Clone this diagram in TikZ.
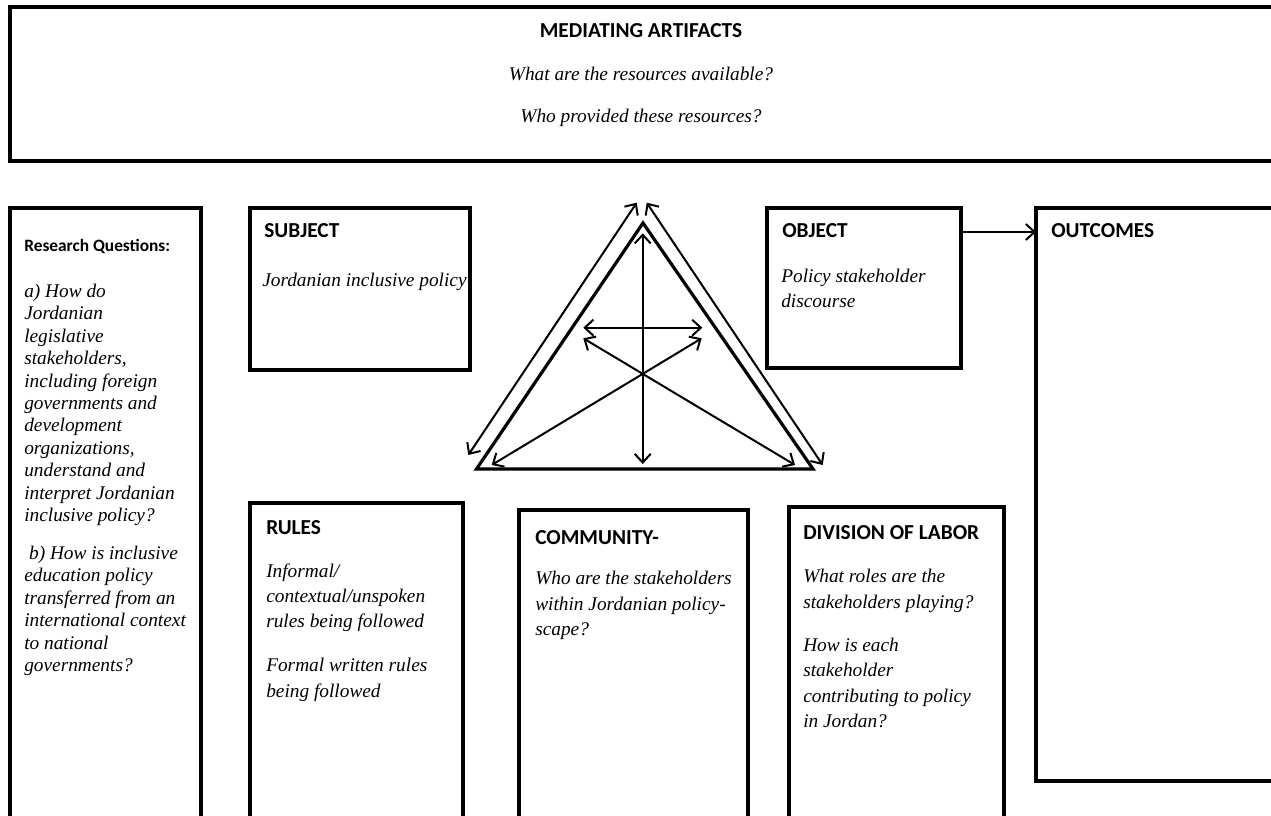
\documentclass[tikz,border=0pt]{standalone}
\usepackage{fontspec}
\setmainfont{Liberation Serif}
\newfontfamily\hdfont{Carlito}
\usetikzlibrary{arrows.meta}
\begin{document}
\begin{tikzpicture}[x=0.75pt,y=-0.75pt,
  box/.style={draw,line width=2.5pt,rectangle,inner sep=0pt,outer sep=0pt,anchor=north west},
  hd/.style={anchor=base west,inner sep=0pt,font=\hdfont\bfseries\fontsize{16}{19}\selectfont},
  it/.style={anchor=base west,inner sep=0pt,align=left,font=\itshape\fontsize{14.5}{19.1}\selectfont},
  barb/.tip={Straight Barb[length=6.5pt,width=12pt,line width=1.5pt]},
  link/.style={line width=1.5pt,barb-barb},
  onelink/.style={line width=1.5pt,-barb},
]
\useasboundingbox (0,0) rectangle (1271,816);
\clip (0,0) rectangle (1271,816);

% boxes
\node[box,minimum width=960pt,minimum height=115.5pt] (med) at (10,7) {};
\node[box,minimum width=143.25pt,minimum height=466.5pt] (rq) at (10,208) {};
\node[box,minimum width=165pt,minimum height=121.5pt] (subj) at (250,208) {};
\node[box,minimum width=145.5pt,minimum height=120pt] (obj) at (767,208) {};
\node[box,minimum width=190.5pt,minimum height=429.75pt] (out) at (1036,208) {};
\node[box,minimum width=159.75pt,minimum height=245.25pt] (rules) at (250,503) {};
\node[box,minimum width=171.75pt,minimum height=240pt] (comm) at (519,510) {};
\node[box,minimum width=161.25pt,minimum height=242.25pt] (div) at (789,507) {};

% mediating artifacts
\node[hd,anchor=base] (medh) at (641,38) {MEDIATING ARTIFACTS};
\node[it,anchor=base] (medq1) at (641,81) {What are the resources available?};
\node[it,anchor=base] (medq2) at (641,123) {Who provided these resources?};

% research questions (multi-line nodes: base = last line)
\node[hd,font=\hdfont\bfseries\fontsize{13}{16}\selectfont] (rqh) at (24,252) {Research Questions:};
\node[it,font=\itshape\fontsize{14.5}{16.8}\selectfont] (rqt) at (24,671.5)
 {a) How do\\Jordanian\\legislative\\stakeholders,\\including foreign\\governments and\\development\\organizations,\\understand and\\interpret Jordanian\\inclusive policy?\\[11.7pt]\hspace*{0.25em}b) How is inclusive\\education policy\\transferred from an\\international context\\to national\\governments?};

% subject
\node[hd] (subjh) at (264,238) {SUBJECT};
\node[it] (subjt) at (262,287) {Jordanian inclusive policy};

% object
\node[hd] (objh) at (782,238) {OBJECT};
\node[it] (objt) at (781,307.5) {Policy stakeholder\\discourse};

% outcomes
\node[hd] (outh) at (1051,238) {OUTCOMES};

% rules
\node[hd] (rulesh) at (266,534) {RULES};
\node[it] (rulest) at (266,697.4) {Informal/\\contextual/unspoken\\rules being followed\\[13.9pt]Formal written rules\\being followed};

% community
\node[hd] (commh) at (535,544) {COMMUNITY-};
\node[it] (commt) at (535,635.9) {Who are the stakeholders\\within Jordanian policy-\\scape?};

% division of labor
\node[hd] (divh) at (803,539) {DIVISION OF LABOR};
\node[it] (divt) at (803,727.9) {What roles are the\\stakeholders playing?\\[13.5pt]How is each\\stakeholder\\contributing to policy\\in Jordan?};

% object -> outcomes
\draw[onelink] ([yshift=-18pt]obj.north east) -- ([yshift=-18pt]out.north west);

% triangle
\coordinate (ta) at (643,223);
\coordinate (tl) at (476.5,469);
\coordinate (tr) at (813,469);
\draw[line width=2.4pt,line join=miter] (ta) -- (tl) -- (tr) -- cycle;

\coordinate (olt) at (636.7,202.7);
\coordinate (olb) at (468.3,455);
\coordinate (ort) at (646.7,202.7);
\coordinate (orb) at (822.7,465);
\coordinate (vt) at (642.7,233.3);
\coordinate (vb) at (642.7,464);
\coordinate (hl) at (583.3,327.7);
\coordinate (hr) at (702.3,327.7);
\coordinate (dal) at (583.3,338.3);
\coordinate (dar) at (795,465);
\coordinate (dbr) at (701.7,338.3);
\coordinate (dbl) at (491.7,465);

\draw[link] (olt) -- (olb);
\draw[link] (ort) -- (orb);
\draw[link] (vt) -- (vb);
\draw[link] (hl) -- (hr);
\draw[link] (dal) -- (dar);
\draw[link] (dbr) -- (dbl);
\end{tikzpicture}
\end{document}
